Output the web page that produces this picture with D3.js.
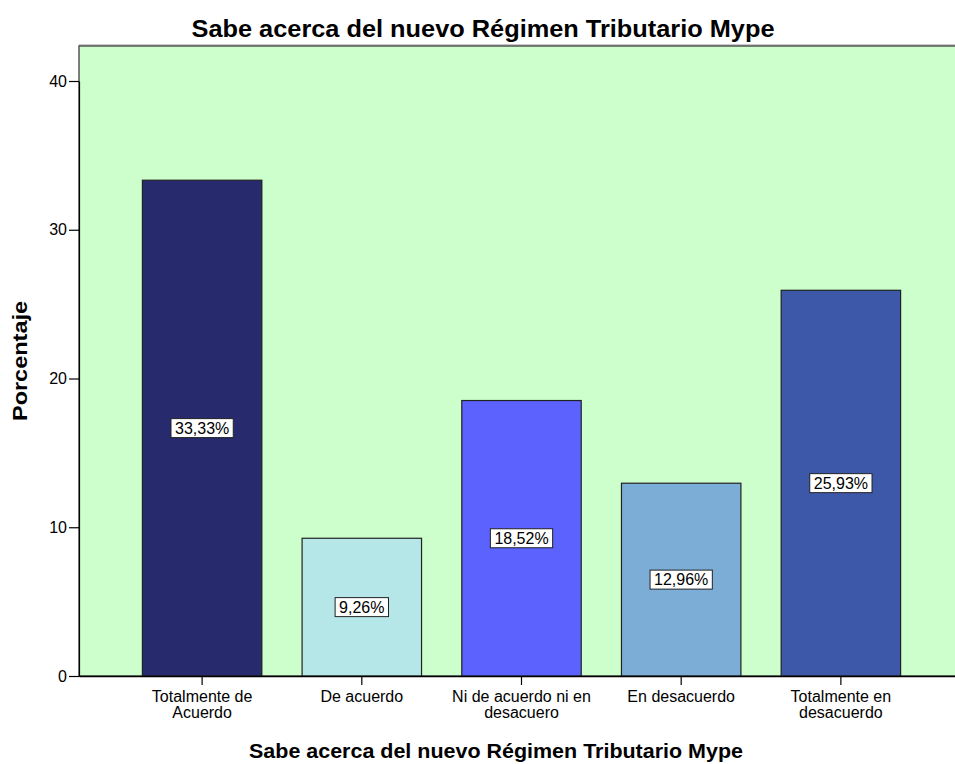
<!DOCTYPE html>
<html>
<head>
<meta charset="utf-8">
<script src="https://cdn.jsdelivr.net/npm/d3@7"></script>
<style>
    body { margin: 0; background: #fff; }
    text { font-family: "Liberation Sans", Arial, sans-serif; fill: #000; }
</style>
</head>
<body>
<script>
const categories = [
    ["Totalmente de", "Acuerdo"],
    ["De acuerdo"],
    ["Ni de acuerdo ni en", "desacuero"],
    ["En desacuerdo"],
    ["Totalmente en", "desacuerdo"]
];
const percentages = [33.33, 9.26, 18.52, 12.96, 25.93];
const valueLabels = ["33,33%", "9,26%", "18,52%", "12,96%", "25,93%"];
const barColours = ["#282a6e", "#b5e6e8", "#5b62fd", "#7badd6", "#3d58a8"];
const yTicks = [0, 10, 20, 30, 40];

const width = 955, height = 764;
const plot = { left: 79, right: 964, top: 46, bottom: 676 };

const svg = d3.select("body").append("svg")
    .attr("width", width)
    .attr("height", height);

const x = d3.scaleBand()
    .domain(d3.range(categories.length))
    .range([plot.left, plot.right])
    .paddingInner(0.252)
    .paddingOuter(0.397);

const y = d3.scaleLinear()
    .domain([0, 40])
    .range([plot.bottom, 81]);

// plot background
svg.append("rect")
    .attr("x", plot.left)
    .attr("y", plot.top - 2)
    .attr("width", plot.right - plot.left)
    .attr("height", 2)
    .attr("fill", "#c8c8c8");
svg.append("rect")
    .attr("x", plot.left)
    .attr("y", plot.top)
    .attr("width", plot.right - plot.left)
    .attr("height", plot.bottom - plot.top)
    .attr("fill", "#ccffcc")
    .attr("stroke", "#555")
    .attr("stroke-width", 1.5);

// bars
svg.append("g").selectAll("rect")
    .data(percentages)
    .enter()
    .append("rect")
    .attr("x", (d, i) => x(i))
    .attr("y", d => y(d))
    .attr("width", x.bandwidth())
    .attr("height", d => y(0) - y(d))
    .attr("fill", (d, i) => barColours[i])
    .attr("stroke", "#222")
    .attr("stroke-width", 1.2);

// value labels
const labels = svg.append("g").selectAll("g")
    .data(percentages)
    .enter()
    .append("g")
    .attr("transform", (d, i) => `translate(${x(i) + x.bandwidth() / 2}, ${y(d / 2)})`);

labels.append("text")
    .attr("text-anchor", "middle")
    .attr("dy", "0.36em")
    .style("font-size", "16px")
    .text((d, i) => valueLabels[i])
    .each(function(){
        const bb = this.getBBox();
        d3.select(this.parentNode).insert("rect", "text")
            .attr("x", bb.x - 4)
            .attr("y", -9.5)
            .attr("width", bb.width + 8)
            .attr("height", 19)
            .attr("fill", "#fff")
            .attr("stroke", "#222")
            .attr("stroke-width", 1);
    });

// y axis
const yAxis = svg.append("g")
    .attr("transform", `translate(${plot.left},0)`)
    .call(d3.axisLeft(y).tickValues(yTicks).tickSize(10).tickSizeOuter(0).tickPadding(2));
yAxis.select(".domain").attr("stroke", "#000").attr("stroke-width", 1.2);
yAxis.selectAll(".tick line").attr("stroke", "#000").attr("stroke-width", 1.2);
yAxis.selectAll(".tick text")
    .style("font-size", "16px")
    .style("font-family", "'Liberation Sans', Arial, sans-serif")
    .attr("fill", "#000");

// x axis
const xAxis = svg.append("g")
    .attr("transform", `translate(0,${plot.bottom})`)
    .call(d3.axisBottom(x).tickSize(9).tickSizeOuter(0).tickFormat(""));
xAxis.select(".domain").attr("stroke", "#000").attr("stroke-width", 1.5);
xAxis.selectAll(".tick line").attr("stroke", "#000").attr("stroke-width", 1.2);

const xl = svg.append("g").selectAll("text")
    .data(categories)
    .enter()
    .append("text")
    .attr("text-anchor", "middle")
    .attr("x", (d, i) => x(i) + x.bandwidth() / 2)
    .attr("y", 702)
    .style("font-size", "16px");
xl.selectAll("tspan")
    .data(d => d)
    .enter()
    .append("tspan")
    .attr("x", function(){ return this.parentNode.getAttribute("x"); })
    .attr("dy", (d, i) => i === 0 ? 0 : 16)
    .text(d => d);

// titles
svg.append("text")
    .attr("x", 483)
    .attr("y", 37)
    .attr("text-anchor", "middle")
    .attr("textLength", 583)
    .attr("lengthAdjust", "spacingAndGlyphs")
    .style("font-size", "23px")
    .style("font-weight", "bold")
    .text("Sabe acerca del nuevo Régimen Tributario Mype");

svg.append("text")
    .attr("x", 496)
    .attr("y", 758)
    .attr("text-anchor", "middle")
    .attr("textLength", 494)
    .attr("lengthAdjust", "spacingAndGlyphs")
    .style("font-size", "20px")
    .style("font-weight", "bold")
    .text("Sabe acerca del nuevo Régimen Tributario Mype");

svg.append("text")
    .attr("transform", "translate(27,361) rotate(-90)")
    .attr("text-anchor", "middle")
    .attr("textLength", 120)
    .attr("lengthAdjust", "spacingAndGlyphs")
    .style("font-size", "20px")
    .style("font-weight", "bold")
    .text("Porcentaje");
</script>
</body>
</html>
